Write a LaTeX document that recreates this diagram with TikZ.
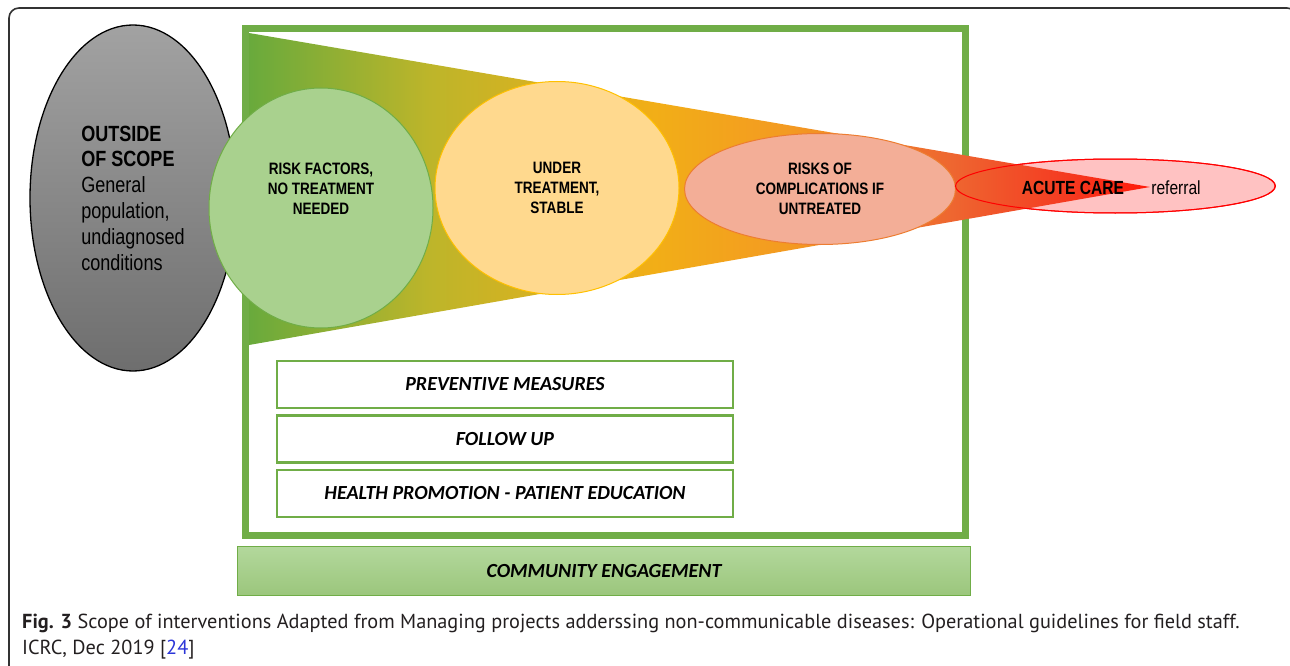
\documentclass[tikz,border=0pt]{standalone}
\usepackage{fontspec}
\usetikzlibrary{shapes.geometric,positioning}
\newfontfamily\narrowfont[FakeStretch=0.82]{Liberation Sans}
\newfontfamily\boxfont{Carlito}
\newfontfamily\capfont{PT Sans}
\definecolor{framegreen}{HTML}{70AD47}
\definecolor{riskfill}{HTML}{A9D18E}
\definecolor{treatfill}{HTML}{FFD98E}
\definecolor{treatline}{HTML}{FFC000}
\definecolor{complfill}{HTML}{F3AE97}
\definecolor{complline}{HTML}{ED7D31}
\definecolor{acutefill}{HTML}{FFC2C2}
\definecolor{grtop}{HTML}{A2A2A2}
\definecolor{grbot}{HTML}{6E6E6E}
\definecolor{commtop}{HTML}{B3D89C}
\definecolor{commbot}{HTML}{9BC67C}
\definecolor{captext}{HTML}{231F20}
\definecolor{linkblue}{HTML}{2B35D8}
\definecolor{fgreen}{HTML}{69AA3C}
\definecolor{folive}{HTML}{BDB52A}
\definecolor{fyellow}{HTML}{F2AE17}
\definecolor{forange}{HTML}{F39A22}
\definecolor{fdark}{HTML}{EE6630}
\definecolor{fred1}{HTML}{F43D22}
\definecolor{fred}{HTML}{FF1A0A}
\pgfdeclarehorizontalshading{funnelshade}{100bp}{color(0bp)=(fgreen); color(25bp)=(fgreen); color(35bp)=(folive); color(47.5bp)=(fyellow); color(55bp)=(forange); color(64bp)=(fdark); color(70bp)=(fred1); color(75bp)=(fred); color(100bp)=(fred)}
\tikzstyle{stage} = [ellipse, inner sep=0pt, line width=1pt, align=center, font=\narrowfont\bfseries\fontsize{16.5}{20}\selectfont]
\tikzstyle{stagetext} = [align=center, inner sep=0pt, font=\narrowfont\bfseries\fontsize{16.5}{20}\selectfont]
\tikzstyle{measure} = [draw=framegreen, line width=2.5pt, rectangle, minimum height=47pt, minimum width=456pt, font=\boxfont\bfseries\itshape\fontsize{20}{24}\selectfont]

\begin{document}
\begin{tikzpicture}[x=1pt,y=-1pt]
    \useasboundingbox (0,0) rectangle (1290,666);
    \clip (0,0) rectangle (1290,666);
    % page frame
    \draw[black!80, line width=1.6pt, rounded corners=10pt] (9,8) rectangle (1297,720);
    \node[draw=framegreen, line width=7pt, minimum width=719.5pt, minimum height=506.5pt, inner sep=0pt] (scope) at (605.25,281.75) {};
    \node[stage, fill=acutefill, draw=red, minimum width=320pt, minimum height=54pt] (acute) at (1115,186) {};
    % funnel
    \coordinate (ftop) at (249,33);
    \coordinate (ftip) at (1150,187);
    \coordinate (fbot) at (249,345);
    \shade[shading=funnelshade] (ftop) -- (ftip) -- (fbot) -- cycle;
    \node[stage, draw=black, line width=1.3pt, top color=grtop, bottom color=grbot, minimum width=206pt, minimum height=346pt, align=left, font=\narrowfont\fontsize{22}{25.8}\selectfont] (outside) at (133,198)
        {\textbf{OUTSIDE}\\\textbf{OF SCOPE}\\General\\population,\\undiagnosed\\conditions};
    \node[stage, fill=riskfill, draw=framegreen, minimum width=224pt, minimum height=240pt] (risk) at (321,208) {};
    \node[stagetext] (risklbl) at ([yshift=19pt]risk.center) {RISK FACTORS,\\NO TREATMENT\\NEEDED};
    \node[stage, fill=treatfill, draw=treatline, minimum width=244pt, minimum height=213pt] (treat) at (557,188) {UNDER\\TREATMENT,\\STABLE};
    \node[stage, fill=complfill, draw=complline, minimum width=271pt, minimum height=111pt] (compl) at (820,189) {RISKS OF\\COMPLICATIONS IF\\UNTREATED};
    \draw[red, line width=1pt] (acute.east) arc[start angle=0, end angle=360, x radius=160, y radius=27];
    \node[stagetext, font=\narrowfont\bfseries\fontsize{19}{22}\selectfont] (acutelbl) at (1073,188) {ACUTE CARE};
    \node[stagetext, font=\narrowfont\fontsize{19}{22}\selectfont] (referral) at (1176,188) {referral};
    % measures
    \node[measure] (prevent) at (505,384.5) {PREVENTIVE MEASURES};
    \node[measure, below=5pt of prevent] (follow) {FOLLOW UP};
    \node[measure, below=5pt of follow] (promo) {HEALTH PROMOTION - PATIENT EDUCATION};
    \node[draw=framegreen, line width=1.2pt, top color=commtop, bottom color=commbot, minimum width=733pt, minimum height=49pt, font=\boxfont\bfseries\itshape\fontsize{20}{24}\selectfont] (community) at (604,571) {COMMUNITY ENGAGEMENT};
    % caption
    \node[anchor=north west, align=left, inner sep=0pt, text=captext, font=\capfont\fontsize{20.3}{26}\selectfont] (caption) at (22,614)
        {\textbf{Fig. 3} Scope of interventions Adapted from Managing projects adderssing non-communicable diseases: Operational guidelines for field staff.\\ICRC, Dec 2019 [\textcolor{linkblue}{24}]};
\end{tikzpicture}
\end{document}
